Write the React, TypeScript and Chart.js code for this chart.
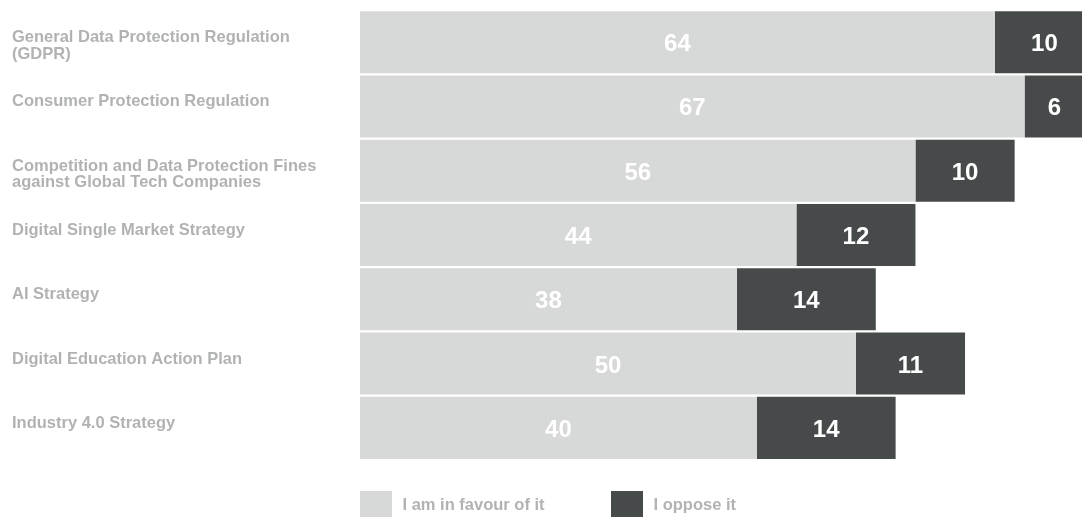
import React, { useEffect, useRef } from "react";
import { Chart, registerables } from "chart.js";

Chart.register(...registerables);

// ---- data ----
const categories: string[][] = [
  ["General Data Protection Regulation", "(GDPR)"],
  ["Consumer Protection Regulation"],
  ["Competition and Data Protection Fines", "against Global Tech Companies"],
  ["Digital Single Market Strategy"],
  ["AI Strategy"],
  ["Digital Education Action Plan"],
  ["Industry 4.0 Strategy"],
];
const favourValues = [64, 67, 56, 44, 38, 50, 40];
const opposeValues = [10, 6, 10, 12, 14, 11, 14];
const seriesNames = ["I am in favour of it", "I oppose it"];
const xAxisMax = 74;

// ---- styles ----
const FONT = '"Liberation Sans", Arial, Helvetica, sans-serif';
const LIGHT = "#d7d9d8";
const DARK = "#474a4b";
const GREY_TEXT = "#b1b3b3";

const customDraw = {
  id: "customDraw",
  afterDatasetsDraw(chart: any) {
    const ctx: CanvasRenderingContext2D = chart.ctx;
    ctx.save();
    // value labels inside bars
    ctx.font = `bold 24px ${FONT}`;
    ctx.fillStyle = "#ffffff";
    ctx.textAlign = "center";
    ctx.textBaseline = "alphabetic";
    chart.data.datasets.forEach((ds: any, di: number) => {
      const meta = chart.getDatasetMeta(di);
      meta.data.forEach((bar: any, i: number) => {
        const { x, base, y } = bar.getProps(["x", "base", "y"], true);
        ctx.fillText(String(ds.data[i]), (x + base) / 2, y + 9);
      });
    });
    // category labels (top-anchored to each bar)
    ctx.font = `bold 16.5px ${FONT}`;
    ctx.fillStyle = GREY_TEXT;
    ctx.textAlign = "left";
    const meta0 = chart.getDatasetMeta(0);
    meta0.data.forEach((bar: any, i: number) => {
      const { y, height } = bar.getProps(["y", "height"], true);
      const top = y - height / 2;
      const lines: string[] = chart.data.labels[i];
      lines.forEach((line, li) => {
        ctx.fillText(line, 12, top + 31 + li * 16.5);
      });
    });
    // legend
    const left = chart.chartArea.left;
    chart.data.datasets.forEach((ds: any, di: number) => {
      const bx = left + di * 251;
      ctx.fillStyle = ds.backgroundColor;
      ctx.fillRect(bx, 491, 32, 32);
      ctx.fillStyle = GREY_TEXT;
      ctx.font = `bold 16.5px ${FONT}`;
      ctx.textAlign = "left";
      ctx.fillText(ds.label, bx + 42.5, 510);
    });
    ctx.restore();
  },
};

export default function App() {
  const canvasRef = useRef<HTMLCanvasElement | null>(null);

  useEffect(() => {
    if (!canvasRef.current) return;
    const chart = new Chart(canvasRef.current, {
      type: "bar",
      data: {
        labels: categories as any,
        datasets: [
          {
            label: seriesNames[0],
            data: favourValues,
            backgroundColor: LIGHT,
            borderWidth: 0,
            categoryPercentage: 1,
            barPercentage: 0.965,
          },
          {
            label: seriesNames[1],
            data: opposeValues,
            backgroundColor: DARK,
            borderWidth: 0,
            categoryPercentage: 1,
            barPercentage: 0.965,
          },
        ],
      },
      options: {
        indexAxis: "y",
        responsive: true,
        maintainAspectRatio: false,
        animation: false,
        layout: { padding: { left: 360, right: 0, top: 10, bottom: 57 } },
        scales: {
          x: {
            stacked: true,
            min: 0,
            max: xAxisMax,
            display: false,
            grid: { display: false },
          },
          y: {
            stacked: true,
            display: false,
            grid: { display: false },
          },
        },
        plugins: {
          legend: { display: false },
          tooltip: { enabled: false },
        },
      },
      plugins: [customDraw],
    });
    return () => chart.destroy();
  }, []);

  return (
    <div
      style={{
        position: "fixed",
        left: 0,
        top: 0,
        width: 1082,
        height: 517,
        overflow: "hidden",
        background: "#ffffff",
      }}
    >
      <div style={{ position: "relative", width: 1094, height: 517 }}>
        <canvas ref={canvasRef} />
      </div>
    </div>
  );
}
